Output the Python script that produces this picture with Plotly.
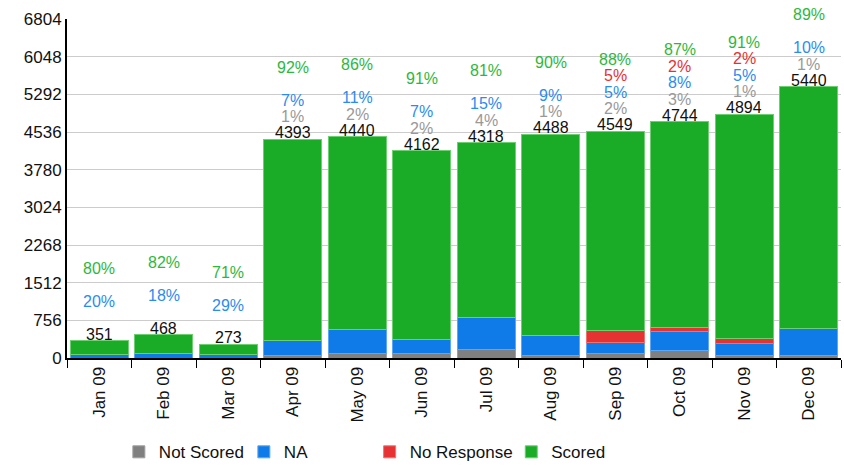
import plotly.graph_objects as go

months = ["Jan 09", "Feb 09", "Mar 09", "Apr 09", "May 09", "Jun 09",
          "Jul 09", "Aug 09", "Sep 09", "Oct 09", "Nov 09", "Dec 09"]
not_scored = [0, 0, 0, 44, 89, 83, 173, 45, 91, 142, 49, 54]
na_vals = [70, 84, 79, 308, 488, 291, 648, 404, 227, 380, 245, 544]
no_response = [0, 0, 0, 0, 0, 0, 0, 0, 227, 95, 98, 0]
scored = [281, 384, 194, 4041, 3863, 3788, 3497, 4039, 4004, 4127, 4502, 4842]
totals = [351, 468, 273, 4393, 4440, 4162, 4318, 4488, 4549, 4744, 4894, 5440]

pct_not_scored = [None, None, None, 1, 2, 2, 4, 1, 2, 3, 1, 1]
pct_na = [20, 18, 29, 7, 11, 7, 15, 9, 5, 8, 5, 10]
pct_no_response = [None, None, None, None, None, None, None, None, 5, 2, 2, None]
pct_scored = [80, 82, 71, 92, 86, 91, 81, 90, 88, 87, 91, 89]

y_ticks = [0, 756, 1512, 2268, 3024, 3780, 4536, 5292, 6048, 6804]

FONT = "Liberation Sans, Arial, sans-serif"
C_NS, C_NA, C_NR, C_SC = "#808080", "#0f7be8", "#e63232", "#1aab27"
T_NS, T_NA, T_NR, T_SC = "#999999", "#2b8cf0", "#e8302f", "#2db83d"

fig = go.Figure()
for name, vals, col, edge, lg in [("Not Scored", not_scored, C_NS, "#a0a0a0", "legend"),
                                  ("NA", na_vals, C_NA, "#5aa8f5", "legend"),
                                  ("No Response", no_response, C_NR, "#f07070", "legend3"),
                                  ("Scored", scored, C_SC, "#6cd070", "legend2")]:
    fig.add_trace(go.Bar(x=months, y=vals, name=name, legend=lg,
                         marker=dict(color=col, line=dict(color=edge, width=1))))

ann = []
for i, m in enumerate(months):
    ann.append(dict(x=m, y=totals[i], text=str(totals[i]), yshift=7,
                    font=dict(color="#111111")))
    for p, shift, col in [(pct_not_scored[i], 23, T_NS), (pct_na[i], 39.5, T_NA),
                          (pct_no_response[i], 56, T_NR), (pct_scored[i], 72.5, T_SC)]:
        if p is not None:
            ann.append(dict(x=m, y=totals[i], text=f"{p}%", yshift=shift,
                            font=dict(color=col)))
for a in ann:
    a.update(xref="x", yref="y", showarrow=False, yanchor="middle", height=16,
             font=dict(family=FONT, size=16, color=a["font"]["color"]))

legend_common = dict(orientation="h", y=-0.225, xanchor="left", yanchor="top",
                     font=dict(family=FONT, size=17, color="#111111"),
                     traceorder="normal", bgcolor="rgba(0,0,0,0)")

fig.update_layout(
    barmode="stack", bargap=0.1,
    width=844, height=467,
    margin=dict(l=67, r=3, t=19, b=109, autoexpand=False),
    paper_bgcolor="white", plot_bgcolor="white",
    font=dict(family=FONT, size=17, color="#111111"),
    annotations=ann,
    legend=dict(x=0.067, entrywidth=80, entrywidthmode="pixels", **legend_common),
    legend3=dict(x=0.391, **legend_common),
    legend2=dict(x=0.574, **legend_common),
    xaxis=dict(showline=True, linecolor="black", linewidth=2, ticks="outside",
               tickson="boundaries", ticklen=8, tickcolor="black", tickangle=-90,
               showgrid=False, automargin=False,
               tickfont=dict(family=FONT, size=17, color="#111111")),
    yaxis=dict(range=[0, 6804], tickvals=y_ticks, showline=True, linecolor="black",
               linewidth=2, gridcolor="#cccccc", gridwidth=1, zeroline=False,
               automargin=False, ticks="",
               tickfont=dict(family=FONT, size=17, color="#111111")),
)

fig.write_html("out.html", post_script="document.body.style.margin='0';",
               config={"displayModeBar": False})
